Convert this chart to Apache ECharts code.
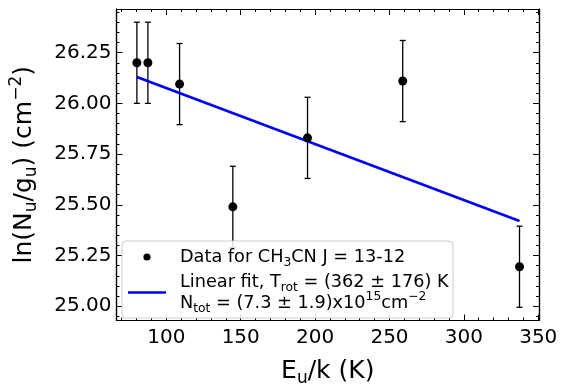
<!DOCTYPE html>
<html>
<head>
<meta charset="utf-8">
<style>
html,body{margin:0;padding:0;background:#fff;}
#chart{width:562px;height:392px;}
</style>
<script src="https://cdn.jsdelivr.net/npm/echarts@6/dist/echarts.min.js"></script>
</head>
<body>
<div id="chart"></div>
<script>
// ---- data ----
const energies = [80.2, 87.6, 108.9, 144.7, 194.9, 258.9, 337.4];   // E_u/k (K)
const lnNg     = [26.20, 26.20, 26.095, 25.49, 25.83, 26.11, 25.195]; // ln(N_u/g_u)
const errs     = [0.20, 0.20, 0.20, 0.20, 0.20, 0.20, 0.20];
const fitX     = [80.2, 337.4];
const fitY     = [26.13, 25.42];
const xTicks   = [100, 150, 200, 250, 300, 350];
const yTicks   = [25.00, 25.25, 25.50, 25.75, 26.00, 26.25];
const xRange   = [66.5, 350.5];
const yRange   = [24.93, 26.465];

function minorTicks(major, step, n, lo, hi) {
  const out = [];
  const d = step / n;
  for (let v = major[0] - step; v <= major[major.length - 1] + step + 1e-9; v += d) {
    const r = Math.round(v * 1000) / 1000;
    if (r < lo || r > hi) continue;
    if (major.some(m => Math.abs(m - r) < 1e-6)) continue;
    out.push(r);
  }
  return out;
}
const xMinor = minorTicks(xTicks, 50, 5, xRange[0], xRange[1]);
const yMinor = minorTicks(yTicks, 0.25, 5, yRange[0], yRange[1]);

const FONT = 'DejaVu Sans';
const lineStyle = { color: '#000', width: 1.2 };

function xAx(pos, ticks, len, labels) {
  return {
    type: 'value', position: pos, min: xRange[0], max: xRange[1],
    axisLine: { show: true, onZero: false, lineStyle },
    axisTick: { show: true, inside: true, length: len, customValues: ticks, lineStyle: { color: '#000', width: 1 } },
    axisLabel: labels ? {
      show: true, customValues: ticks, fontSize: 20, fontFamily: FONT, color: '#000', margin: 7
    } : { show: false },
    splitLine: { show: false }
  };
}
function yAx(pos, ticks, len, labels) {
  return {
    type: 'value', position: pos, min: yRange[0], max: yRange[1],
    axisLine: { show: true, onZero: false, lineStyle },
    axisTick: { show: true, inside: true, length: len, customValues: ticks, lineStyle: { color: '#000', width: 1 } },
    axisLabel: labels ? {
      show: true, customValues: ticks, fontSize: 20, fontFamily: FONT, color: '#000', margin: 5,
      formatter: v => v.toFixed(2)
    } : { show: false },
    splitLine: { show: false }
  };
}

const richBig = {
  n: { fontSize: 25, fontFamily: FONT, color: '#000', lineHeight: 30 },
  sub: { fontSize: 17, fontFamily: FONT, color: '#000', lineHeight: 17, padding: [14, 0, 0, 0] },
  sup: { fontSize: 17, fontFamily: FONT, color: '#000', lineHeight: 17, padding: [0, 0, 16, 0] }
};
const richLeg = {
  n: { fontSize: 17.7, fontFamily: FONT, color: '#000', lineHeight: 22 },
  sub: { fontSize: 12.3, fontFamily: FONT, color: '#000', lineHeight: 12, padding: [11, 0, 0, 0] },
  sup: { fontSize: 12.3, fontFamily: FONT, color: '#000', lineHeight: 12, padding: [0, 0, 12, 0] }
};

const xa0 = xAx('bottom', xTicks, 6, true);
xa0.name = '{n|E}{sub|u}{n|/k (K)}';
xa0.nameLocation = 'middle';
xa0.nameGap = 36;
xa0.nameTextStyle = { rich: richBig };

const ya0 = yAx('left', yTicks, 6, true);
ya0.name = '{n|ln(N}{sub|u}{n|/g}{sub|u}{n|) (cm}{sup|−2}{n|)}';
ya0.nameLocation = 'middle';
ya0.nameRotate = 90;
ya0.nameGap = 77;
ya0.nameTextStyle = { rich: richBig };

const chart = echarts.init(document.getElementById('chart'), null, { renderer: 'canvas' });

const pts = energies.map((e, i) => [e, lnNg[i], errs[i]]);

chart.setOption({
  animation: false,
  backgroundColor: '#fff',
  grid: { left: 114, right: 23, top: 9, bottom: 68, containLabel: false },
  xAxis: [xa0, xAx('bottom', xMinor, 3, false), xAx('top', xTicks, 6, false), xAx('top', xMinor, 3, false)],
  yAxis: [ya0, yAx('left', yMinor, 3, false), yAx('right', yTicks, 6, false), yAx('right', yMinor, 3, false)],
  series: [
    {
      type: 'custom', xAxisIndex: 0, yAxisIndex: 0, z: 2,
      data: pts,
      renderItem: function (params, api) {
        const x = api.value(0), y = api.value(1), e = api.value(2);
        const top = api.coord([x, y + e]);
        const bot = api.coord([x, y - e]);
        const cw = 3;
        const st = { stroke: '#000', lineWidth: 1.3 };
        return {
          type: 'group',
          children: [
            { type: 'line', shape: { x1: top[0], y1: top[1], x2: bot[0], y2: bot[1] }, style: st },
            { type: 'line', shape: { x1: top[0] - cw, y1: top[1], x2: top[0] + cw, y2: top[1] }, style: st },
            { type: 'line', shape: { x1: bot[0] - cw, y1: bot[1], x2: bot[0] + cw, y2: bot[1] }, style: st }
          ]
        };
      }
    },
    {
      type: 'line', xAxisIndex: 0, yAxisIndex: 0, z: 3,
      data: fitX.map((x, i) => [x, fitY[i]]),
      showSymbol: false, symbol: 'none',
      lineStyle: { color: '#0000ff', width: 2.6 },
      silent: true
    },
    {
      type: 'scatter', xAxisIndex: 0, yAxisIndex: 0, z: 4,
      data: energies.map((e, i) => [e, lnNg[i]]),
      symbol: 'circle', symbolSize: 9,
      itemStyle: { color: '#000', opacity: 1 }
    }
  ],
  graphic: [
    {
      type: 'rect', z: 10,
      shape: { x: 122, y: 241, width: 331, height: 77, r: 4 },
      style: { fill: 'rgba(255,255,255,0.85)', stroke: '#cccccc', lineWidth: 1 }
    },
    {
      type: 'circle', z: 11,
      shape: { cx: 147, cy: 257, r: 3.6 },
      style: { fill: '#000' }
    },
    {
      type: 'line', z: 11,
      shape: { x1: 128, y1: 292.5, x2: 166, y2: 292.5 },
      style: { stroke: '#0000ff', lineWidth: 2.6 }
    },
    {
      type: 'text', z: 11, x: 180, y: 257,
      style: {
        text: '{n|Data for CH}{sub|3}{n|CN J = 13-12}',
        rich: richLeg, verticalAlign: 'middle', align: 'left'
      }
    },
    {
      type: 'text', z: 11, x: 180, y: 282,
      style: {
        text: '{n|Linear fit, T}{sub|rot}{n| = (362 ± 176) K}',
        rich: richLeg, verticalAlign: 'middle', align: 'left'
      }
    },
    {
      type: 'text', z: 11, x: 180, y: 303,
      style: {
        text: '{n|N}{sub|tot}{n| = (7.3 ± 1.9)x10}{sup|15}{n|cm}{sup|−2}',
        rich: richLeg, verticalAlign: 'middle', align: 'left'
      }
    }
  ]
});
</script>
</body>
</html>
